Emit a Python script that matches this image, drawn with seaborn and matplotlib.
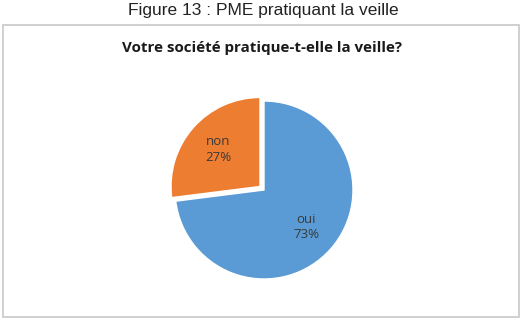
import matplotlib
matplotlib.use("Agg")
import matplotlib.pyplot as plt
import matplotlib.patches as mpatches
import seaborn as sns

categories = ["oui", "non"]
values = [73, 27]
colors = ["#5B9BD5", "#ED7D31"]
explode = [0, 0.06]

sns.set_theme(style="white")
plt.rcParams['font.family'] = ['Liberation Sans', 'DejaVu Sans']

W, H = 528, 320
fig = plt.figure(figsize=(W / 100, H / 100), dpi=100)
fig.patch.set_facecolor("white")

# outer frame
frame = mpatches.Rectangle((2.5 / W, 3.5 / H), 516 / W, 292 / H, transform=fig.transFigure,
                           fill=False, edgecolor="#C8C8C8", linewidth=1.2)
fig.add_artist(frame)

fig.text(263 / W, 1 - 14.5 / H, "Figure 13 : PME pratiquant la veille", ha="center", va="baseline",
         fontsize=12.5, color="#222222", family=["Liberation Sans"])
fig.text(262 / W, 1 - 48 / H, "Votre société pratique-t-elle la veille?", ha="center", va="center",
         fontsize=10.9, fontweight="bold", color="#1a1a1a", family=["Open Sans", "DejaVu Sans"])

cx, cy, r = 264, 190, 89
half = r * 1.2
ax = fig.add_axes([(cx - half) / W, (H - cy - half) / H, 2 * half / W, 2 * half / H])

it = iter(categories)
wedges, texts, autotexts = ax.pie(
    values, colors=colors, explode=explode, startangle=90, counterclock=False,
    autopct=lambda p: f"{next(it)}\n{p:.0f}%", pctdistance=0.63,
    wedgeprops=dict(edgecolor="white", linewidth=1),
    textprops=dict(color="#3a3a3a", fontsize=9.5, family=["Open Sans", "DejaVu Sans"],
                   linespacing=1.25))
ax.set_xlim(-1.2, 1.2)
ax.set_ylim(-1.2, 1.2)
ax.set_aspect("equal")
ax.axis("off")

fig.savefig("out.png", dpi=100, facecolor="white")
